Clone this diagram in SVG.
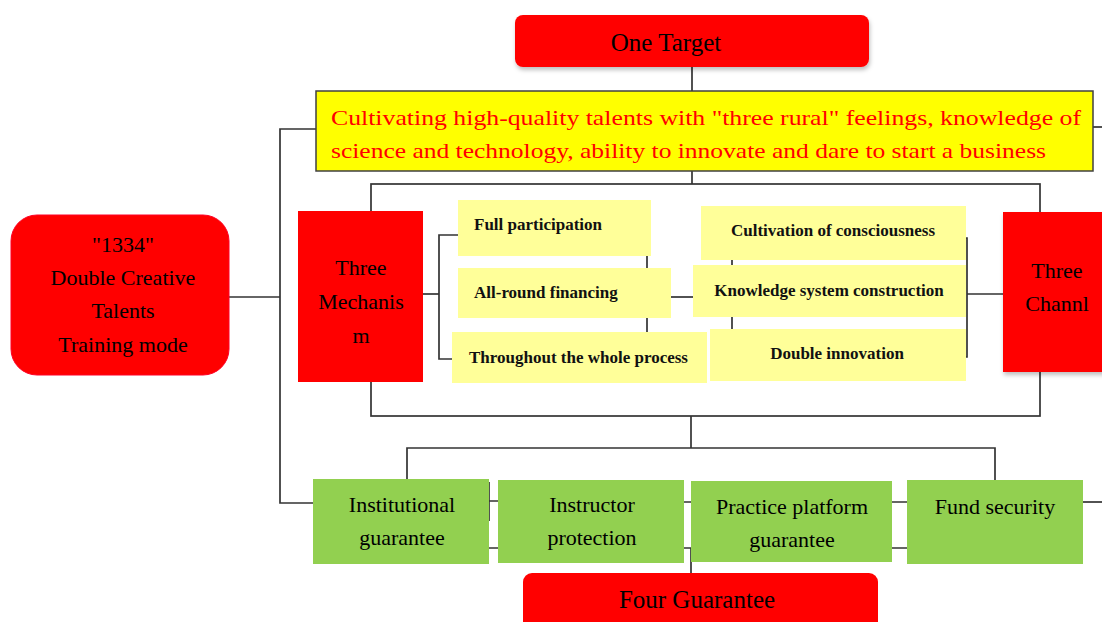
<svg xmlns="http://www.w3.org/2000/svg" width="1102" height="622" viewBox="0 0 1102 622">
<style>
.ln{fill:none;stroke:#333;stroke-width:1.7}
.red{fill:#ff0000}
.pale{fill:#ffff99}
.grn{fill:#92d050}
.t{font-family:"Liberation Serif","Times New Roman",serif;fill:#000}
.b{font-family:"Liberation Serif","Times New Roman",serif;font-weight:bold;font-size:17px;fill:#111}
.m{font-size:22px;text-anchor:middle}
.big{font-size:25px;text-anchor:middle}
.rt{font-family:"Liberation Serif","Times New Roman",serif;font-size:22px;fill:#ff0000}
</style>
<defs>
<filter id="sh" x="-10%" y="-10%" width="120%" height="130%">
<feDropShadow dx="1" dy="3" stdDeviation="2" flood-color="#000" flood-opacity="0.25"/>
</filter>
</defs>
<g id="connectors">
<path class="ln" d="M692 67V91"/>
<path class="ln" d="M1093 127H1102"/>
<path class="ln" d="M316 129H280V503H313"/>
<path class="ln" d="M229 297H280"/>
<path class="ln" d="M692 171V184"/>
<rect class="ln" x="371" y="184" width="669" height="232"/>
<path class="ln" d="M423 294H439"/>
<path class="ln" d="M458 235H439V359H452"/>
<path class="ln" d="M647 256V268M647 318V332"/>
<path class="ln" d="M671 297H693"/>
<path class="ln" d="M732 260V265M732 317V329"/>
<path class="ln" d="M966 238H967V357H966M967 294H1003"/>
<path class="ln" d="M691 416V448"/>
<path class="ln" d="M407 479V448H995V480"/>
<path class="ln" d="M489 482V521M489 501H498M489 548H498"/>
<path class="ln" d="M684 502H691M684 548H691V573"/>
<path class="ln" d="M892 502H907M892 548H907"/>
<path class="ln" d="M1083 502H1102"/>
</g>
<g id="one-target">
<rect class="red" x="515" y="15" width="354" height="52" rx="8" filter="url(#sh)"/>
<text class="t big" x="666" y="51">One Target</text>
</g>
<g id="goal">
<rect x="316" y="91" width="777" height="80" fill="#ffff00" stroke="#404040" stroke-width="1.5"/>
<text class="rt" x="331" y="125" textLength="750" lengthAdjust="spacingAndGlyphs">Cultivating high-quality talents with "three rural" feelings, knowledge of</text>
<text class="rt" x="331" y="158" textLength="715" lengthAdjust="spacingAndGlyphs">science and technology, ability to innovate and dare to start a business</text>
</g>
<g id="mode">
<rect x="11" y="215" width="218" height="160" rx="26" fill="#ff0000" stroke="#ff0024" stroke-width="1"/>
<text class="t m" x="123" y="252">"1334"</text>
<text class="t m" x="123" y="285">Double Creative</text>
<text class="t m" x="123" y="318">Talents</text>
<text class="t m" x="123" y="352">Training mode</text>
</g>
<g id="three-mechanism">
<rect class="red" x="298" y="211" width="125" height="171"/>
<text class="t m" x="361" y="275">Three</text>
<text class="t m" x="361" y="309">Mechanis</text>
<text class="t m" x="361" y="343">m</text>
</g>
<g id="full-participation">
<rect class="pale" x="458" y="200" width="193" height="56"/>
<text class="b" x="474" y="230">Full participation</text>
</g>
<g id="all-round-financing">
<rect class="pale" x="458" y="268" width="213" height="50"/>
<text class="b" x="474" y="298">All-round financing</text>
</g>
<g id="whole-process">
<rect class="pale" x="452" y="332" width="255" height="51"/>
<text class="b" x="469" y="363">Throughout the whole process</text>
</g>
<g id="consciousness">
<rect class="pale" x="701" y="206" width="265" height="54"/>
<text class="b" x="833" y="236" text-anchor="middle">Cultivation of consciousness</text>
</g>
<g id="knowledge-system">
<rect class="pale" x="693" y="265" width="273" height="52"/>
<text class="b" x="829" y="296" text-anchor="middle">Knowledge system construction</text>
</g>
<g id="double-innovation">
<rect class="pale" x="710" y="329" width="256" height="52"/>
<text class="b" x="837" y="359" text-anchor="middle">Double innovation</text>
</g>
<g id="three-channel">
<rect class="red" x="1003" y="212" width="110" height="160" filter="url(#sh)"/>
<text class="t m" x="1057" y="278">Three</text>
<text class="t m" x="1057" y="311">Channl</text>
</g>
<g id="institutional">
<rect class="grn" x="313" y="479" width="176" height="85"/>
<text class="t m" x="402" y="512">Institutional</text>
<text class="t m" x="402" y="545">guarantee</text>
</g>
<g id="instructor">
<rect class="grn" x="498" y="480" width="186" height="83"/>
<text class="t m" x="592" y="512">Instructor</text>
<text class="t m" x="592" y="545">protection</text>
</g>
<g id="practice-platform">
<rect class="grn" x="691" y="481" width="201" height="81"/>
<text class="t m" x="792" y="514">Practice platform</text>
<text class="t m" x="792" y="547">guarantee</text>
</g>
<g id="fund-security">
<rect class="grn" x="907" y="480" width="176" height="84"/>
<text class="t m" x="995" y="514">Fund security</text>
</g>
<g id="four-guarantee">
<rect class="red" x="523" y="573" width="355" height="70" rx="9"/>
<text class="t big" x="697" y="608">Four Guarantee</text>
</g>
</svg>
